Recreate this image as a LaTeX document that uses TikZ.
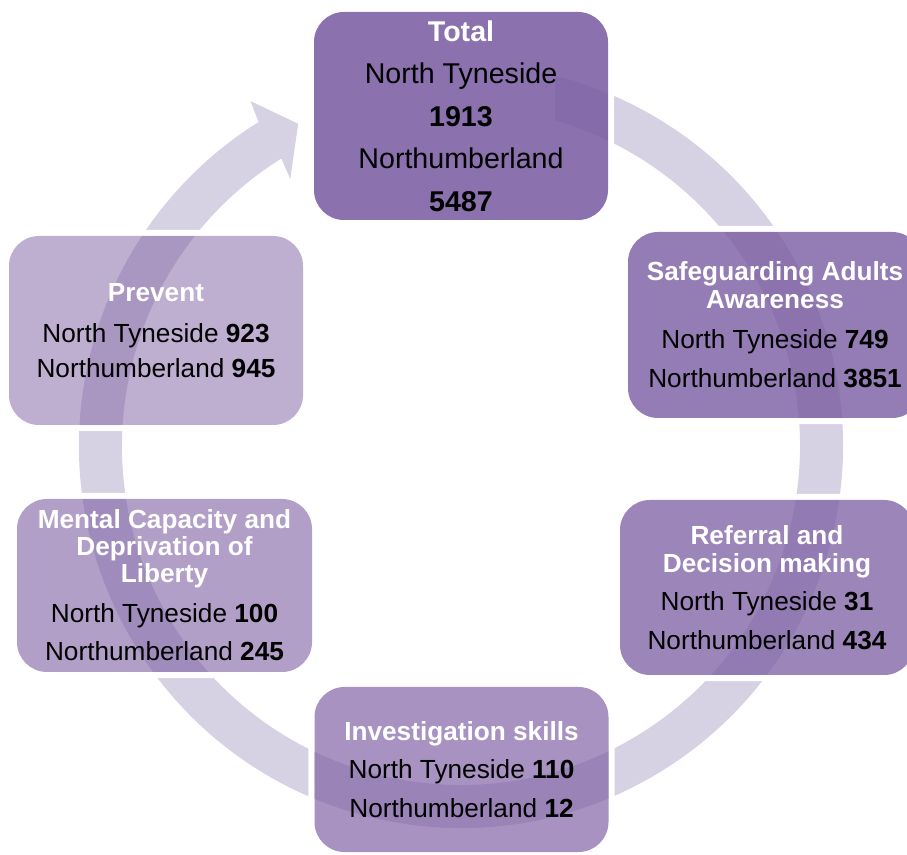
\documentclass[tikz,border=0pt]{standalone}
\usepackage{fontspec}
\setmainfont{Liberation Sans}
\usetikzlibrary{calc}
\definecolor{boxc}{RGB}{125,95,163}
\definecolor{ringc}{RGB}{214,209,227}
\newcommand{\ttl}[1]{\textcolor{white}{\textbf{#1}}}
\pgfdeclarelayer{ringlayer}
\pgfdeclarelayer{halolayer}
\pgfsetlayers{ringlayer,halolayer,main}
\tikzset{
  cbox/.style={rectangle, rounded corners=30pt, minimum width=294pt, inner sep=0pt,
    fill=boxc, text opacity=1, text=black, align=center,
    font=\fontsize{26.2}{28}\selectfont},
  halo/.style={fill=white, even odd rule}
}
\begin{document}
\begin{tikzpicture}[x=1pt,y=1pt]
\useasboundingbox (0,0) rectangle (907,854);
\coordinate (C) at (461,408);

\node[cbox, minimum height=208pt, fill opacity=0.89,
  font=\fontsize{28.6}{42.5}\selectfont] (total) at (461,738)
  {\ttl{Total}\\North Tyneside\\\textbf{1913}\\Northumberland\\\textbf{5487}};

\node[cbox, minimum height=186pt, fill opacity=0.82] (safe) at (775,529)
  {\ttl{Safeguarding Adults}\\\ttl{Awareness}\\[12pt]North Tyneside \textbf{749}\\[11pt]Northumberland \textbf{3851}};

\node[cbox, minimum height=175pt, fill opacity=0.76] (ref) at (767,266.5)
  {\ttl{Referral and}\\\ttl{Decision making}\\[10.3pt]North Tyneside \textbf{31}\\[10.3pt]Northumberland \textbf{434}};

\node[cbox, minimum height=165pt, fill opacity=0.68] (inv) at (461.5,84.5)
  {\ttl{Investigation skills}\\[10.5pt]North Tyneside \textbf{110}\\[10.5pt]Northumberland \textbf{12}};

\node[cbox, minimum width=295pt, minimum height=173pt, fill opacity=0.60,
  font=\fontsize{26.2}{27}\selectfont] (mcap) at (164.5,268.5)
  {\ttl{Mental Capacity and}\\\ttl{Deprivation of}\\\ttl{Liberty}\\[13pt]North Tyneside \textbf{100}\\[11pt]Northumberland \textbf{245}};

\node[cbox, minimum height=189pt, fill opacity=0.50] (prev) at (156,523.5)
  {\ttl{Prevent}\\[13.7pt]North Tyneside \textbf{923}\\[7pt]Northumberland \textbf{945}};

\begin{pgfonlayer}{halolayer}
  \foreach \n in {total,safe,ref,inv,mcap,prev}{
    \fill[halo]
      [rounded corners=36pt] ($(\n.south west)+(-6,-6)$) rectangle ($(\n.north east)+(6,6)$)
      [rounded corners=30pt] (\n.south west) rectangle (\n.north east);
  }
\end{pgfonlayer}

\begin{pgfonlayer}{ringlayer}
  \fill[ringc] ($(C)+(75.75:382)$) arc[start angle=75.75, end angle=-238, radius=382]
    -- ($(C)+(-238.6:404)$) -- ($(C)+(-243.2:361)$) -- ($(C)+(-237.4:317)$)
    -- ($(C)+(-238:339)$) arc[start angle=-238, end angle=73.9, radius=339] -- cycle;
\end{pgfonlayer}
\end{tikzpicture}
\end{document}
